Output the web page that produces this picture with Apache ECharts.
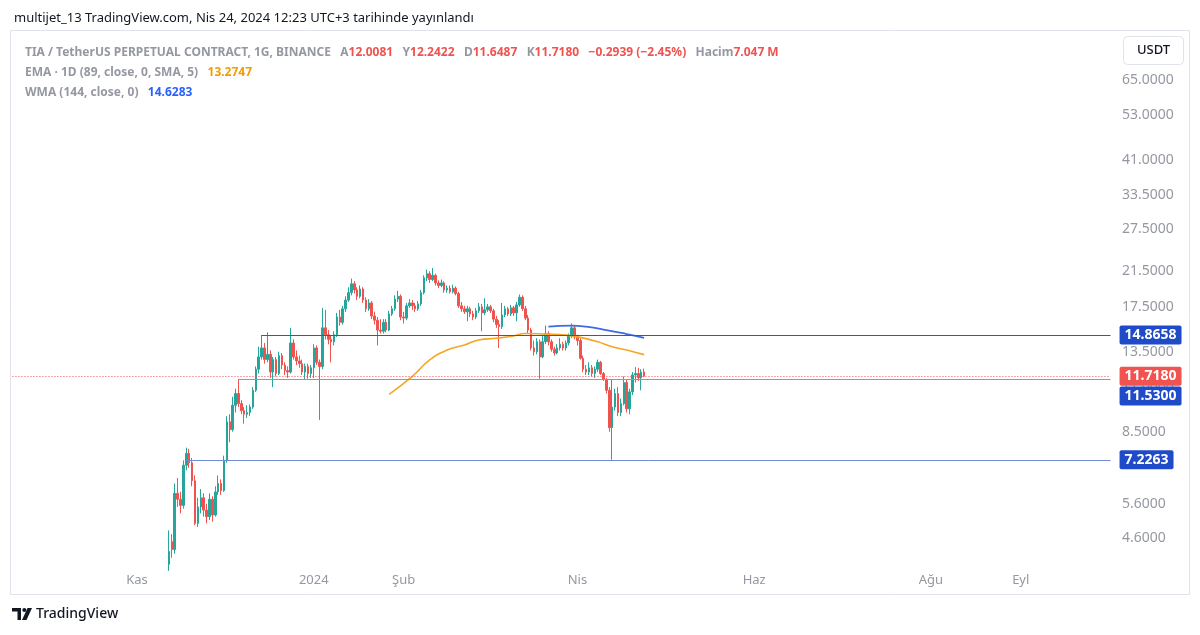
<!DOCTYPE html>
<html><head><meta charset="utf-8">
<script src="https://cdn.jsdelivr.net/npm/echarts@6/dist/echarts.min.js"></script>
<style>html,body{margin:0;padding:0;background:#fff}#c{width:1200px;height:635px}</style>
</head><body><div id="c"></div>
<script>
// ---------- data ----------
const axisStart = '2023-09-19';
const axisDays = 380;
const candleStart = '2023-11-12';
// [open, high, low, close] daily
const candles = [
[3.95,4.8,3.8,4.25],[4.5,4.7,4.1,4.3],[4.3,6.3,4.2,5.95],[5.95,6.5,5.5,5.75],[5.75,6.0,5.3,5.55],
[5.55,7.2,5.45,7.0],[7.0,7.75,6.8,7.5],[7.5,7.7,6.9,7.1],[7.1,7.3,6.2,6.4],[6.4,6.6,4.95,5.0],
[5.0,5.8,4.9,5.5],[5.5,6.1,5.3,5.8],[5.8,5.95,5.2,5.4],[5.4,5.6,5.0,5.2],[5.2,5.95,5.1,5.75],
[5.75,5.85,5.05,5.25],[5.25,6.2,5.2,6.0],[6.0,6.6,5.9,6.3],[6.3,6.45,5.9,6.05],[6.05,7.4,6.0,7.2],
[7.2,9.3,7.1,9.0],[9.0,9.4,8.0,8.6],[8.6,10.4,8.5,9.9],[9.9,10.9,9.5,10.6],[10.6,11.53,9.8,10.0],
[10.0,10.2,9.4,9.6],[9.6,9.8,8.9,9.4],[9.4,9.9,9.2,9.5],[9.5,9.95,9.3,9.8],[9.8,11.0,9.7,10.8],
[10.8,12.4,10.7,12.2],[12.2,13.9,11.9,13.1],[13.1,14.87,12.9,13.8],[13.8,14.2,12.6,12.9],[12.9,15.1,12.7,13.3],
[13.3,13.6,11.6,12.0],[12.0,13.1,11.0,12.9],[12.9,13.1,11.7,11.9],[11.9,13.5,11.8,13.2],[13.2,13.4,12.2,12.5],
[12.5,12.7,11.8,12.1],[12.1,12.4,11.6,12.0],[12.0,15.5,11.9,14.2],[14.2,14.5,12.9,13.1],[13.1,13.6,12.5,12.8],
[12.8,13.2,12.3,12.6],[12.6,12.9,11.8,12.0],[12.0,12.6,11.5,12.4],[12.4,12.6,11.55,11.9],[11.9,12.5,11.6,12.3],
[12.3,14.1,11.6,13.8],[13.8,14.0,12.5,12.7],[12.7,12.9,9.1,12.4],[12.4,17.4,12.2,15.5],[15.5,17.2,14.5,14.9],
[14.9,15.3,14.1,14.5],[14.5,14.8,12.7,14.3],[14.3,15.2,14.0,14.9],[14.9,16.9,14.7,16.5],[16.5,17.2,15.7,16.0],
[16.0,17.6,15.8,17.3],[17.3,18.6,17.0,18.2],[18.2,19.6,18.0,19.0],[19.0,20.6,18.7,20.0],[20.0,20.3,18.9,19.3],
[19.3,19.6,18.2,18.6],[18.6,19.8,18.4,19.4],[19.4,19.6,17.9,18.2],[18.2,18.5,17.0,17.3],[17.3,18.3,17.1,17.9],
[17.9,18.1,16.3,16.6],[16.6,17.0,15.8,16.2],[16.2,16.5,14.0,15.3],[15.3,16.3,15.0,15.2],[15.2,16.3,15.0,16.0],
[16.0,16.3,15.1,15.3],[15.3,17.1,15.2,16.8],[16.8,17.6,16.6,17.3],[17.3,18.7,17.1,18.3],[18.3,19.2,18.0,18.6],
[18.6,18.8,16.2,16.5],[16.5,17.0,15.9,16.4],[16.4,17.9,16.2,17.6],[17.6,18.3,17.4,17.9],[17.9,18.2,17.2,17.6],
[17.6,17.9,17.0,17.3],[17.3,18.1,17.1,17.8],[17.8,19.3,17.6,19.0],[19.0,21.0,18.8,20.7],[20.7,21.7,20.3,21.2],
[21.2,21.5,20.1,20.5],[20.5,21.9,20.3,21.0],[21.0,21.2,19.8,20.1],[20.1,20.4,19.5,19.8],[19.8,20.5,19.6,20.1],
[20.1,20.3,19.0,19.3],[19.3,19.8,19.0,19.5],[19.5,19.8,18.9,19.1],[19.1,19.9,18.9,19.5],[19.5,19.7,18.7,18.9],
[18.9,19.1,17.4,17.6],[17.6,18.0,17.0,17.3],[17.3,17.6,16.8,17.0],[17.0,17.6,16.1,17.3],[17.3,17.5,16.5,16.8],
[16.8,17.1,16.2,16.5],[16.5,17.4,16.3,17.1],[17.1,17.9,16.9,17.5],[17.5,17.8,15.2,16.9],[16.9,18.4,16.7,17.2],
[17.2,17.8,17.0,17.5],[17.5,17.7,16.9,17.1],[17.1,17.3,16.0,16.3],[16.3,16.6,15.5,15.8],[15.8,16.2,13.8,15.6],
[15.6,17.9,15.4,16.7],[16.7,17.6,16.5,17.3],[17.3,17.5,16.6,16.8],[16.8,17.7,16.6,17.4],[17.4,17.6,16.6,16.9],
[16.9,18.0,16.1,17.7],[17.7,18.8,17.5,18.5],[18.5,18.7,17.1,17.3],[17.3,17.6,16.2,16.4],[16.4,16.7,15.0,15.3],
[15.3,15.5,13.6,13.8],[13.8,14.4,13.2,13.5],[13.5,14.6,13.3,14.3],[14.3,14.5,11.55,13.1],[13.1,14.9,13.0,14.3],
[14.3,15.7,14.1,15.0],[15.0,15.2,14.0,14.3],[14.3,14.5,13.5,13.7],[13.7,13.9,13.2,13.4],[13.4,14.1,13.3,13.8],
[13.8,14.6,13.6,14.1],[14.1,14.3,13.6,13.8],[13.8,14.4,13.6,14.2],[14.2,15.0,14.0,14.8],[14.8,15.9,14.6,15.5],
[15.5,15.7,14.5,14.7],[14.7,14.9,14.0,14.4],[14.4,14.6,12.9,13.0],[13.0,13.2,12.0,12.2],[12.2,12.5,11.8,12.0],
[12.0,12.7,11.8,12.3],[12.3,12.5,11.7,11.9],[11.9,12.4,11.6,12.2],[12.2,12.9,12.0,12.7],[12.7,12.8,11.8,11.9],
[11.9,12.0,11.4,11.5],[11.5,11.6,10.6,10.8],[10.8,11.0,8.5,8.7],[8.7,11.5,7.23,9.8],[9.8,10.9,9.6,10.6],
[10.6,11.0,9.3,9.5],[9.5,10.3,9.3,10.0],[10.0,11.7,9.9,11.3],[11.3,11.5,9.5,9.7],[9.7,10.9,9.4,10.7],
[10.7,12.0,10.5,11.8],[11.8,12.35,11.3,11.9],[11.9,12.3,11.4,11.6],[11.6,12.2,10.8,12.0],[12.0081,12.2422,11.6487,11.7180]
];
const emaDates  = ['2024-01-27','2024-02-04','2024-02-10','2024-02-16','2024-02-22','2024-02-27','2024-03-04','2024-03-10','2024-03-14','2024-03-21','2024-03-28','2024-04-02','2024-04-08','2024-04-13','2024-04-19','2024-04-24'];
const emaValues = [10.55,11.7,12.87,13.63,14.03,14.45,14.59,14.79,15.0,14.95,14.86,14.67,14.30,13.90,13.58,13.2747];
const wmaDates  = ['2024-03-22','2024-03-30','2024-04-04','2024-04-11','2024-04-18','2024-04-24'];
const wmaValues = [15.6,15.7,15.6,15.3,14.95,14.6283];
const priceTicks = [4.6,5.6,7.0,8.5,11.0,13.5,17.5,21.5,27.5,33.5,41,53,65];
const timeTickDates  = ['2023-11-01','2024-01-01','2024-02-01','2024-04-01','2024-06-01','2024-08-01','2024-09-01'];
const timeTickLabels = ['Kas','2024','Şub','Nis','Haz','Ağu','Eyl'];
const levelValues = [14.8658, 11.53, 7.2263];
const levelStarts = ['2023-12-14','2023-12-06','2023-11-18'];
const lastPrice = 11.7180;

// ---------- build ----------
function iso(d){return d.toISOString().slice(0,10);}
const s0 = new Date(axisStart + 'T00:00:00Z');
const categories = [];
for (let i = 0; i < axisDays; i++) categories.push(iso(new Date(s0.getTime() + i*86400000)));
const c0 = new Date(candleStart + 'T00:00:00Z');
const candleData = candles.map((c,k) => [iso(new Date(c0.getTime() + k*86400000)), c[0], c[3], c[2], c[1]]);
const emaData = emaDates.map((d,i)=>[d, emaValues[i]]);
const wmaData = wmaDates.map((d,i)=>[d, wmaValues[i]]);
const tickMap = {}; timeTickDates.forEach((d,i)=>tickMap[d]=timeTickLabels[i]);
const lastCat = categories[categories.length-1];

const F = "'Noto Sans', sans-serif";
const GREY = '#9598a1';
const levelLine = ['#2f55c8', '#7f98dc', '#6f8cd4'];
const boxBlue = '#1f4bc8';
function lvlLabel(txt, bg, off){
  return {show:true, position:'end', distance:9, formatter: txt, color:'#fff', backgroundColor:bg,
    padding:[3,5,2,5], borderRadius:2, fontSize:14, fontWeight:'bold', fontFamily:F, offset: off||[0,0]};
}
const markData = levelValues.map((v,i)=>[
  {coord:[levelStarts[i], v], lineStyle:{color:levelLine[i], width:1, type:'solid'},
   label: lvlLabel(v.toFixed(4), boxBlue, i===1?[0,17]:[0,0])},
  {coord:[lastCat, v]}
]);
markData.push([
  {coord:[categories[0], lastPrice], lineStyle:{color:'#ef5350', width:1, type:[1,2]},
   label: lvlLabel(lastPrice.toFixed(4), '#f05350')},
  {coord:[lastCat, lastPrice]}
]);

const chart = echarts.init(document.getElementById('c'), null, {renderer:'canvas'});
chart.setOption({
  animation:false,
  backgroundColor:'#fff',
  textStyle:{fontFamily:F},
  title:[
    {text:'multijet_13 TradingView.com, Nis 24, 2024 12:23 UTC+3 tarihinde yayınlandı', left:9, top:7,
     textStyle:{fontSize:13, color:'#131722', fontWeight:'normal', fontFamily:F}},
    {text:'{g|TIA / TetherUS PERPETUAL CONTRACT, 1G, BINANCE}  {g|A}{r|12.0081}  {g|Y}{r|12.2422}  {g|D}{r|11.6487}  {g|K}{r|11.7180}  {r|−0.2939 (−2.45%)}  {g|Hacim}{r|7.047 M}',
     left:20, top:39, textStyle:{rich:{g:{fontSize:12, color:GREY, fontFamily:F}, r:{fontSize:12, color:'#ef5350', fontFamily:F}}}},
    {text:'{g|EMA · 1D (89, close, 0, SMA, 5)}  {o|13.2747}', left:20, top:59,
     textStyle:{rich:{g:{fontSize:12, color:GREY, fontFamily:F}, o:{fontSize:12, color:'#f59b00', fontFamily:F}}}},
    {text:'{g|WMA (144, close, 0)}  {b|14.6283}', left:20, top:79,
     textStyle:{rich:{g:{fontSize:12, color:GREY, fontFamily:F}, b:{fontSize:12, color:'#2962ff', fontFamily:F}}}}
  ],
  graphic:[
    {type:'rect', shape:{x:10.5, y:30.5, width:1179, height:564}, style:{fill:'none', stroke:'#e0e3eb', lineWidth:1}, silent:true, z:-1},
    {type:'rect', shape:{x:1123.5, y:36.5, width:60, height:28, r:4}, style:{fill:'#fff', stroke:'#e0e3eb', lineWidth:1}, silent:true},
    {type:'text', x:1153.5, y:50.5, style:{text:'USDT', fill:'#131722', font:"500 13px 'Noto Sans'", align:'center', verticalAlign:'middle'}, silent:true},
    {type:'group', x:12, y:608, silent:true, children:[
      {type:'polygon', shape:{points:[[0,0],[9,0],[9,12],[5.5,12],[5.5,3.5],[0,3.5]]}, style:{fill:'#131722'}},
      {type:'circle', shape:{cx:12.3, cy:2, r:2}, style:{fill:'#131722'}},
      {type:'polygon', shape:{points:[[15.5,0],[20,0],[14.5,12],[10,12]]}, style:{fill:'#131722'}}
    ]},
    {type:'text', x:36, y:614.5, style:{text:'TradingView', fill:'#131722', font:"500 14px 'Noto Sans'", verticalAlign:'middle'}, silent:true}
  ],
  grid:{left:11, width:1101, top:31, bottom:68, containLabel:false},
  xAxis:{
    type:'category', data:categories, boundaryGap:true,
    axisLine:{show:false}, axisTick:{show:false}, splitLine:{show:false},
    axisLabel:{
      interval:(idx, val)=>tickMap[val]!==undefined,
      formatter:(val)=>tickMap[val]||'',
      color:GREY, fontSize:13, margin:7, fontFamily:F
    }
  },
  yAxis:{
    type:'log', position:'right', min:3.886, max:86.3, logBase:10,
    axisLine:{show:false}, axisTick:{show:false, customValues:priceTicks}, splitLine:{show:false},
    axisLabel:{customValues:priceTicks, formatter:(v)=>Number(v).toFixed(4), color:GREY, fontSize:14, margin:10, fontFamily:F}
  },
  series:[
    {type:'candlestick', name:'TIA', data:candleData, encode:{x:0, y:[1,2,3,4]},
     barWidth:2, clip:true,
     itemStyle:{color:'#26a69a', color0:'#ef5350', borderColor:'#26a69a', borderColor0:'#ef5350', borderWidth:1},
     markLine:{symbol:['none','none'], silent:true, animation:false, data:markData}
    },
    {type:'line', name:'EMA', data:emaData, smooth:true, showSymbol:false, connectNulls:true,
     lineStyle:{color:'#f5a623', width:1.6}, z:3},
    {type:'line', name:'WMA', data:wmaData, smooth:true, showSymbol:false, connectNulls:true,
     lineStyle:{color:'#3f6ae0', width:1.8}, z:3}
  ]
});
</script></body></html>
